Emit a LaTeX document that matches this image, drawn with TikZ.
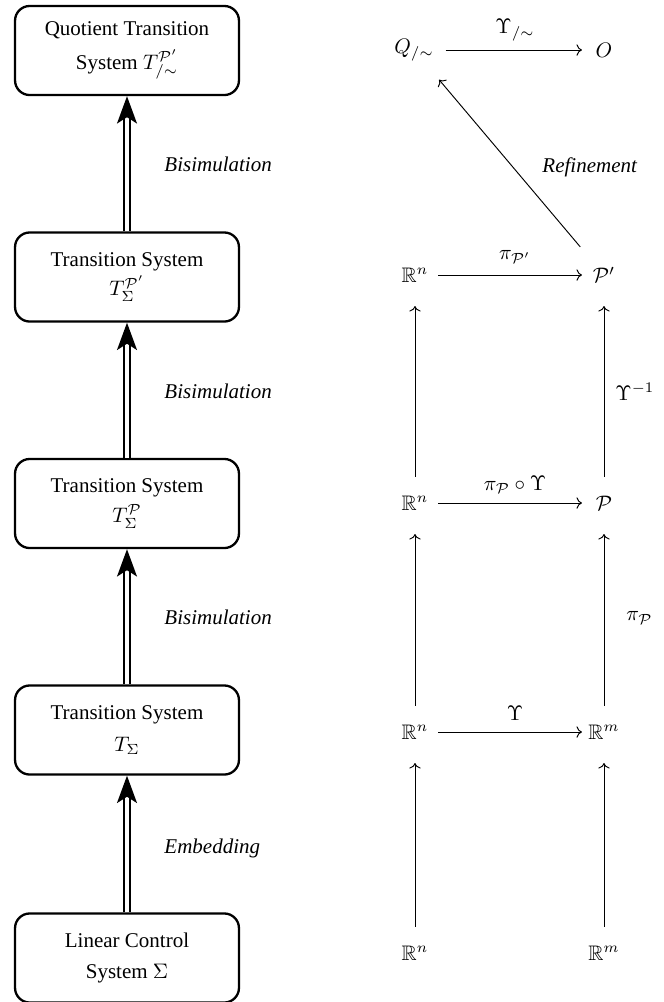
\documentclass[tikz,border=0pt]{standalone}
\usepackage[no-math]{fontspec}
\setmainfont{Liberation Serif}
\usepackage{amssymb}
\usetikzlibrary{arrows.meta}
\begin{document}
\begin{tikzpicture}[x=0.476pt,y=-0.476pt,
  sysbox/.style={draw, line width=1.1pt, rounded corners=7pt, minimum width=106.6pt, minimum height=42.4pt, align=center, inner sep=2pt},
  dbl/.style={double, double distance=1.6pt, line width=0.9pt, -{Stealth[length=13pt,width=9.5pt,inset=3pt]}},
  lbl/.style={font=\itshape, anchor=west, inner sep=0pt},
  mlbl/.style={inner sep=0pt},
  cd/.style={->, line width=0.45pt},
  vcd/.style={cd, shorten <=12.4pt, shorten >=14.8pt},
  hcd/.style={cd, shorten <=11pt, shorten >=10.5pt}
]
\useasboundingbox (0,0) rectangle (664,1002);

% left column
\node[sysbox] (b1) at (127,50.5) {Quotient Transition\\[4pt] System $T^{\mathcal{P}'}_{/\sim}$};
\node[sysbox] (b2) at (127,277) {Transition System\\[2pt] $T^{\mathcal{P}'}_{\Sigma}$};
\node[sysbox] (b3) at (127,503.5) {Transition System\\[2pt] $T^{\mathcal{P}}_{\Sigma}$};
\node[sysbox] (b4) at (127,730) {Transition System\\[3pt] $T_{\Sigma}$};
\node[sysbox] (b5) at (127,958) {Linear Control\\[3pt] System $\Sigma$};

\draw[dbl] (b2.north) -- (b1.south);
\draw[dbl] (b3.north) -- (b2.south);
\draw[dbl] (b4.north) -- (b3.south);
\draw[dbl] (b5.north) -- (b4.south);

\node[lbl] (l1) at (164,164) {Bisimulation};
\node[lbl] (l2) at (164,391) {Bisimulation};
\node[lbl] (l3) at (164,617) {Bisimulation};
\node[lbl] (l4) at (164,848) {Embedding};

% right diagram
\node (Q)  at (414,50)  {$Q_{/\sim}$};
\node (O)  at (604,50)  {$O$};
\node (R1) at (415,275) {$\mathbb{R}^n$};
\node (P1) at (604,275) {$\mathcal{P}'$};
\node (R2) at (415,503) {$\mathbb{R}^n$};
\node (P2) at (604,503) {$\mathcal{P}$};
\node (R3) at (415,732) {$\mathbb{R}^n$};
\node (M3) at (604,732) {$\mathbb{R}^m$};
\node (R4) at (415,953) {$\mathbb{R}^n$};
\node (M4) at (604,953) {$\mathbb{R}^m$};

\draw[cd, shorten <=15pt, shorten >=10.5pt] (Q.center) -- (O.center);
\draw[hcd] (R1.center) -- (P1.center);
\draw[hcd] (R2.center) -- (P2.center);
\draw[hcd] (R3.center) -- (M3.center);
\draw[cd, shorten <=17.5pt, shorten >=18.5pt] (P1.center) -- (Q.center);

\draw[vcd] (R4.center) -- (R3.center);
\draw[vcd] (R3.center) -- (R2.center);
\draw[vcd] (R2.center) -- (R1.center);
\draw[vcd] (M4.center) -- (M3.center);
\draw[vcd] (M3.center) -- (P2.center);
\draw[vcd] (P2.center) -- (P1.center);

\node[mlbl] (t1) at (515,30) {$\Upsilon_{/\sim}$};
\node[mlbl] (t2) at (515,257) {$\pi_{\mathcal{P}'}$};
\node[mlbl] (t3) at (515,485) {$\pi_{\mathcal{P}}\circ\Upsilon$};
\node[mlbl] (t4) at (515,713) {$\Upsilon$};
\node[lbl] (rf) at (542,167) {Refinement};
\node[mlbl, anchor=west] (ui) at (615,392) {$\Upsilon^{-1}$};
\node[mlbl, anchor=west] (pp) at (626,618) {$\pi_{\mathcal{P}}$};
\end{tikzpicture}
\end{document}
